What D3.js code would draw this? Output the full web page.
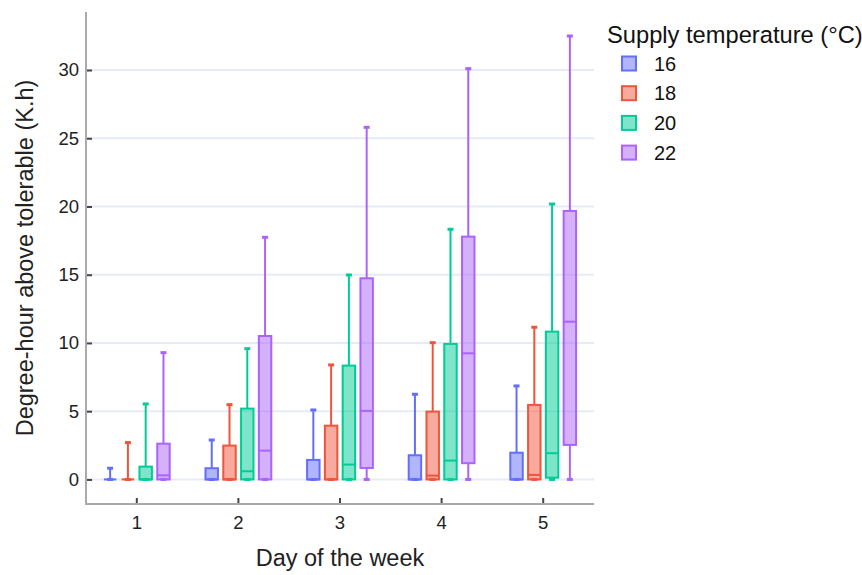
<!DOCTYPE html>
<html>
<head>
<meta charset="utf-8">
<script src="https://cdn.jsdelivr.net/npm/d3@7/dist/d3.min.js"></script>
<style>
  html, body { margin: 0; padding: 0; background: #fff; }
  svg { display: block; font-family: "Liberation Sans", Arial, sans-serif; }
</style>
</head>
<body>
<svg id="chart" width="862" height="575"></svg>
<script>
// ---- Data ----
const days = ["1", "2", "3", "4", "5"];
const temps = ["16", "18", "20", "22"];
const colors = ["#636efa", "#EF553B", "#00cc96", "#ab63fa"];
const yTicks = [0, 5, 10, 15, 20, 25, 30];

// Box statistics per temperature, one value per day: [lowerWhisker, q1, median, q3, upperWhisker]
const stats16 = [[0,0,0,0,0.82],[0,0,0,0.82,2.89],[0,0,0,1.43,5.09],[0,0,0,1.77,6.24],[0,0,0,1.96,6.85]];
const stats18 = [[0,0,0,0,2.7],[0,0,0,2.48,5.48],[0,0,0,3.94,8.39],[0,0,0.28,4.97,10.02],[0,0,0.33,5.46,11.15]];
const stats20 = [[0,0,0,0.94,5.53],[0,0,0.6,5.19,9.58],[0,0,1.09,8.34,14.98],[0,0,1.38,9.93,18.33],[0,0.13,1.92,10.83,20.18]];
const stats22 = [[0,0,0.3,2.62,9.29],[0,0,2.11,10.51,17.74],[0,0.84,5.02,14.74,25.8],[0,1.19,9.24,17.79,30.1],[0,2.53,11.56,19.67,32.49]];
const allStats = [stats16, stats18, stats20, stats22];

// ---- Layout ----
const svg = d3.select("#chart");
const plot = { left: 86, right: 594, top: 12, bottom: 504 };

const x = d3.scaleBand().domain(days).range([plot.left, plot.right]).padding(0);
const inner = d3.scaleBand().domain(temps)
  .range([x.bandwidth() * 0.15, x.bandwidth() * 0.85]).padding(0);
const boxW = inner.bandwidth() * 0.7;
const y = d3.scaleLinear().domain([-1.8, 34.25]).range([plot.bottom, plot.top]);

// gridlines
svg.append("g").selectAll("line").data(yTicks).join("line")
  .attr("x1", plot.left + 1).attr("x2", plot.right)
  .attr("y1", d => y(d)).attr("y2", d => y(d))
  .attr("stroke", "#e6ebf5").attr("stroke-width", 2);

// axes
const yAxis = d3.axisLeft(y).tickValues(yTicks).tickSize(-6).tickPadding(7);
const gy = svg.append("g").attr("transform", `translate(${plot.left},0)`).call(yAxis);
gy.select(".domain").remove();
gy.selectAll(".tick line").attr("stroke", "#444").attr("stroke-width", 2);
gy.selectAll(".tick text").attr("font-size", 18.5).attr("fill", "#222")
  .attr("font-family", "'Liberation Sans', Arial, sans-serif");

const xAxis = d3.axisBottom(x).tickSize(-6).tickPadding(12);
const gx = svg.append("g").attr("transform", `translate(0,${plot.bottom})`).call(xAxis);
gx.select(".domain").remove();
gx.selectAll(".tick line").attr("stroke", "#444").attr("stroke-width", 2);
gx.selectAll(".tick text").attr("font-size", 18.5).attr("fill", "#222")
  .attr("font-family", "'Liberation Sans', Arial, sans-serif");

// axis lines
svg.append("line").attr("x1", plot.left).attr("x2", plot.left)
  .attr("y1", plot.top).attr("y2", plot.bottom + 1)
  .attr("stroke", "#aaaaaa").attr("stroke-width", 2);
svg.append("line").attr("x1", plot.left - 1).attr("x2", plot.right)
  .attr("y1", plot.bottom).attr("y2", plot.bottom)
  .attr("stroke", "#aaaaaa").attr("stroke-width", 2);

// boxes
temps.forEach((t, ti) => {
  const g = svg.append("g");
  const col = colors[ti];
  allStats[ti].forEach((s, di) => {
    const cx = x(days[di]) + inner(t) + inner.bandwidth() / 2;
    const [lw, q1, med, q3, uw] = s;
    const cap = 3;
    // whiskers
    g.append("line").attr("x1", cx).attr("x2", cx).attr("y1", y(q3)).attr("y2", y(uw))
      .attr("stroke", col).attr("stroke-width", 2);
    g.append("line").attr("x1", cx - cap).attr("x2", cx + cap).attr("y1", y(uw)).attr("y2", y(uw))
      .attr("stroke", col).attr("stroke-width", 3);
    g.append("line").attr("x1", cx).attr("x2", cx).attr("y1", y(q1)).attr("y2", y(lw))
      .attr("stroke", col).attr("stroke-width", 2);
    g.append("line").attr("x1", cx - cap).attr("x2", cx + cap).attr("y1", y(lw)).attr("y2", y(lw))
      .attr("stroke", col).attr("stroke-width", 3);
    // box
    g.append("rect").attr("x", cx - boxW / 2).attr("width", boxW)
      .attr("y", y(q3)).attr("height", Math.max(0, y(q1) - y(q3)))
      .attr("fill", col).attr("fill-opacity", 0.5)
      .attr("stroke", col).attr("stroke-width", 2);
    // median
    g.append("line").attr("x1", cx - boxW / 2).attr("x2", cx + boxW / 2)
      .attr("y1", y(med)).attr("y2", y(med))
      .attr("stroke", col).attr("stroke-width", 2);
  });
});

// axis titles
svg.append("text").attr("x", (plot.left + plot.right) / 2).attr("y", 566)
  .attr("text-anchor", "middle").attr("font-size", 23.5).attr("fill", "#222")
  .text("Day of the week");
svg.append("text")
  .attr("transform", `translate(32.5,${(plot.top + plot.bottom) / 2}) rotate(-90)`)
  .attr("text-anchor", "middle").attr("font-size", 23.5).attr("fill", "#222")
  .text("Degree-hour above tolerable (K.h)");

// legend
const leg = svg.append("g");
leg.append("text").attr("x", 607).attr("y", 43).attr("font-size", 23.7).attr("fill", "#111")
  .text("Supply temperature (°C)");
temps.forEach((t, i) => {
  const cy = 63.5 + i * 29.7;
  leg.append("rect").attr("x", 622).attr("y", cy - 7).attr("width", 14).attr("height", 14)
    .attr("fill", colors[i]).attr("fill-opacity", 0.5)
    .attr("stroke", colors[i]).attr("stroke-width", 2);
  leg.append("text").attr("x", 654).attr("y", cy + 7).attr("font-size", 20).attr("fill", "#111")
    .text(t);
});
</script>
</body>
</html>
